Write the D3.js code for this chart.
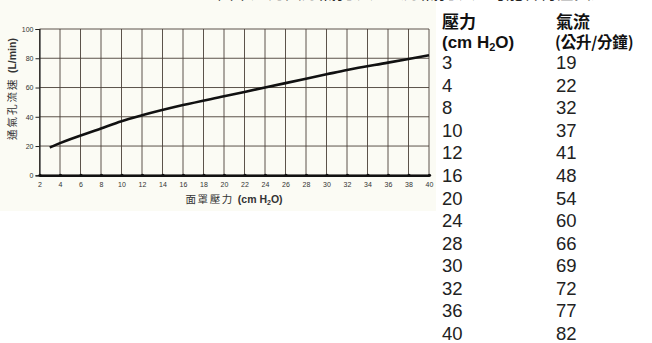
<!DOCTYPE html>
<html>
<head>
<meta charset="utf-8">
<script src="https://cdn.jsdelivr.net/npm/d3@7"></script>
<style>
  html, body { margin: 0; padding: 0; background: #ffffff; }
  svg { display: block; }
</style>
</head>
<body>
<svg id="chart" width="652" height="343"></svg>
<script>
// Mask pressure (cm H2O) and matching vent flow (L/min)
const pressures = [3, 4, 8, 10, 12, 16, 20, 24, 28, 30, 32, 36, 40];
const flows     = [19, 22, 32, 37, 41, 48, 54, 60, 66, 69, 72, 77, 82];
const xTicks = d3.range(2, 41, 2);
const yTicks = [0, 20, 40, 60, 80, 100];

const titleText = "面罩壓力與通氣孔流速（通氣孔流速可能會有差異）";
const xLabel = ["面罩壓力 ", "(cm H", "2", "O)"];
const yLabel = ["通氣孔流速 ", "(L/min)"];
const headPressure = ["壓力", "(cm H", "2", "O)"];
const headFlow = ["氣流", "(公升/分鐘)"];

const svg = d3.select("#chart");
const cjk = "'Noto Sans CJK TC', 'Noto Sans CJK SC', sans-serif";
const latin = "'Liberation Sans', Arial, sans-serif";

// Cream panel behind the plot
svg.append("rect").attr("x", 0).attr("y", 0).attr("width", 436).attr("height", 211)
  .attr("fill", "#fbfbf4");

// Title line running off the top edge
svg.append("text").attr("x", 217).attr("y", -1)
  .attr("font-family", cjk).attr("font-size", 17).attr("fill", "#222")
  .text(titleText);

const x = d3.scaleLinear().domain([2, 40]).range([39.5, 429]);
const y = d3.scaleLinear().domain([0, 100]).range([175.3, 29]);

const g = svg.append("g");

// Grid
g.selectAll(".vg").data(xTicks).join("line")
  .attr("x1", d => x(d)).attr("x2", d => x(d))
  .attr("y1", y(100)).attr("y2", y(0))
  .attr("stroke", "#4a4038").attr("stroke-width", 0.9);
g.selectAll(".hg").data(yTicks).join("line")
  .attr("x1", x(2)).attr("x2", x(40))
  .attr("y1", d => y(d)).attr("y2", d => y(d))
  .attr("stroke", "#4a4038").attr("stroke-width", 0.9);

// Y axis
const yAxis = g.append("g").attr("transform", `translate(${x(2)},0)`)
  .call(d3.axisLeft(y).tickValues(yTicks).tickSize(4).tickPadding(2));
yAxis.select(".domain").attr("stroke", "#222").attr("stroke-width", 1.2);
yAxis.selectAll(".tick line").attr("stroke", "#222");
yAxis.selectAll("text").attr("font-family", latin).attr("font-size", 7)
  .attr("fill", "#333");

// X axis (heavy baseline)
const xAxis = g.append("g").attr("transform", `translate(0,${y(0)})`)
  .call(d3.axisBottom(x).tickValues(xTicks).tickSize(0).tickPadding(7));
xAxis.select(".domain").attr("stroke", "#111").attr("stroke-width", 2.6);
xAxis.selectAll("text").attr("font-family", latin).attr("font-size", 7)
  .attr("fill", "#333");
xAxis.selectAll(".tick").append("circle").attr("r", 1.6).attr("fill", "#111");

// Flow curve
const line = d3.line().x((d, i) => x(pressures[i])).y(d => y(d))
  .curve(d3.curveMonotoneX);
g.append("path").datum(flows).attr("d", line)
  .attr("fill", "none").attr("stroke", "#111").attr("stroke-width", 2.6)
  .attr("stroke-linecap", "butt");

// Axis titles
const xt = svg.append("text").attr("x", 234).attr("y", 203)
  .attr("text-anchor", "middle").attr("fill", "#333").attr("font-size", 10.5);
xt.append("tspan").attr("font-family", cjk).attr("letter-spacing", 1.6).text(xLabel[0]);
xt.append("tspan").attr("font-family", latin).attr("font-weight", "bold").text(xLabel[1]);
xt.append("tspan").attr("font-family", latin).attr("font-weight", "bold")
  .attr("font-size", 7).attr("dy", 2).text(xLabel[2]);
xt.append("tspan").attr("font-family", latin).attr("font-weight", "bold")
  .attr("dy", -2).text(xLabel[3]);

const yt = svg.append("text").attr("transform", "translate(16,89) rotate(-90)")
  .attr("text-anchor", "middle").attr("fill", "#333").attr("font-size", 10.5);
yt.append("tspan").attr("font-family", cjk).attr("letter-spacing", 2).text(yLabel[0]);
yt.append("tspan").attr("font-family", latin).attr("font-weight", "bold").text(yLabel[1]);

// Table of values
const colA = 442, colB = 556;
const hp = svg.append("g").attr("font-family", cjk).attr("font-weight", "bold")
  .attr("font-size", 17).attr("fill", "#111");
hp.append("text").attr("x", colA).attr("y", 27.5).text(headPressure[0]);
hp.append("text").attr("x", colB).attr("y", 27.5).text(headFlow[0]);
const h2 = hp.append("text").attr("x", colA).attr("y", 48)
  .attr("font-family", latin).attr("font-size", 17);
h2.append("tspan").text(headPressure[1]);
h2.append("tspan").attr("font-size", 11).attr("dy", 3).text(headPressure[2]);
h2.append("tspan").attr("dy", -3).text(headPressure[3]);
hp.append("text").attr("x", colB - 1).attr("y", 48).attr("font-size", 15.5)
  .attr("letter-spacing", -0.2).text(headFlow[1]);

const rowY = d3.scaleLinear().domain([0, pressures.length - 1]).range([69, 340]);
const rows = svg.append("g").attr("font-family", latin).attr("font-size", 18.5)
  .attr("fill", "#222");
rows.selectAll(".p").data(pressures).join("text")
  .attr("x", colA).attr("y", (d, i) => rowY(i)).text(d => d);
rows.selectAll(".f").data(flows).join("text")
  .attr("x", colB).attr("y", (d, i) => rowY(i)).text(d => d);
</script>
</body>
</html>
